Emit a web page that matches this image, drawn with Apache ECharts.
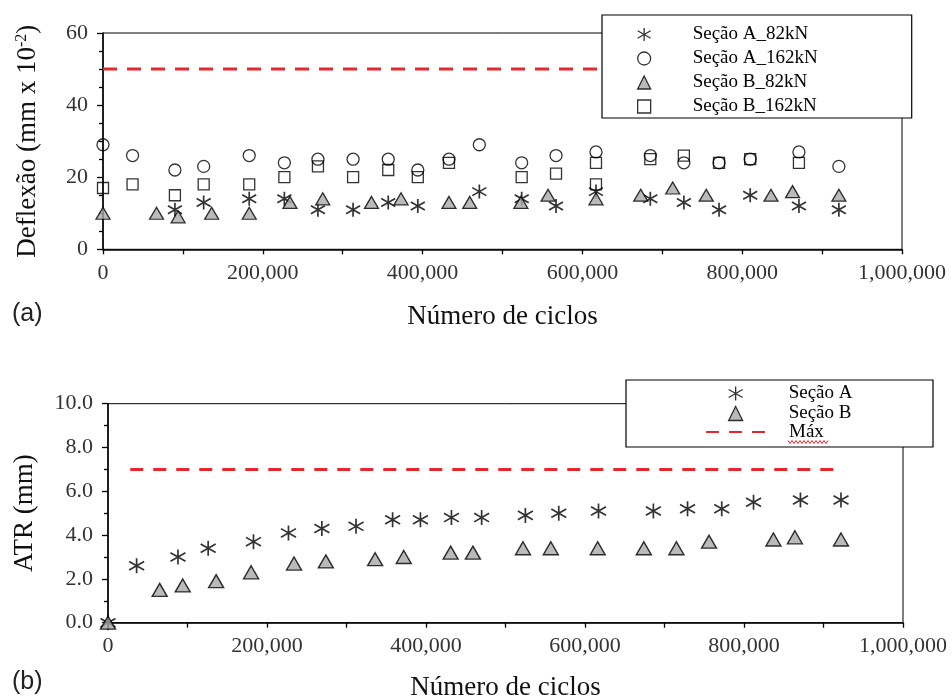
<!DOCTYPE html>
<html>
<head>
<meta charset="utf-8">
<script src="https://cdn.jsdelivr.net/npm/echarts@6.0.0/dist/echarts.min.js"></script>
<style>
  html, body { margin: 0; padding: 0; background: #fff; }
  #chart { width: 952px; height: 697px; }
</style>
</head>
<body>
<div id="chart"></div>
<script>
// (a) Deflexão (mm x 10^-2) por número de ciclos
const ciclosA82 = [90000, 126000, 183000, 227000, 269000, 313000, 357000, 394000, 471000, 524000, 567000, 617000, 685000, 727000, 771000, 810000, 871000, 921000];
const deflA82   = [11, 13, 14, 14, 11, 11, 13, 12, 16, 14, 12, 16, 14, 13, 11, 15, 12, 11];

const ciclosA162 = [0, 37000, 90000, 126000, 183000, 227000, 269000, 313000, 357000, 394000, 433000, 471000, 524000, 567000, 617000, 685000, 727000, 771000, 810000, 871000, 921000];
const deflA162   = [29, 26, 22, 23, 26, 24, 25, 25, 25, 22, 25, 29, 24, 26, 27, 26, 24, 24, 25, 27, 23];

const ciclosB82 = [0, 67000, 94000, 136000, 183000, 234000, 275000, 336000, 373000, 433000, 459000, 523000, 557000, 617000, 673000, 713000, 755000, 836000, 863000, 921000];
const deflB82   = [10, 10, 9, 10, 10, 13, 14, 13, 14, 13, 13, 13, 15, 14, 15, 17, 15, 15, 16, 15];

const ciclosB162 = [0, 37000, 90000, 126000, 183000, 227000, 269000, 313000, 357000, 394000, 433000, 524000, 567000, 617000, 617000, 685000, 727000, 771000, 810000, 871000];
const deflB162   = [17, 18, 15, 18, 18, 20, 23, 20, 22, 20, 24, 20, 21, 24, 18, 25, 26, 24, 25, 24];

const limiteDefl = 50;
const limiteDeflCiclos = [0, 921000];

// (b) ATR (mm) por número de ciclos
const ciclosAtrA = [0, 36000, 88000, 126000, 183000, 227000, 269000, 312000, 358000, 393000, 432000, 470000, 525000, 567000, 617000, 686000, 729000, 772000, 812000, 871000, 922000];
const atrA       = [0, 2.6, 3.0, 3.4, 3.7, 4.1, 4.3, 4.4, 4.7, 4.7, 4.8, 4.8, 4.9, 5.0, 5.1, 5.1, 5.2, 5.2, 5.5, 5.6, 5.6];

const ciclosAtrB = [0, 65000, 94000, 136000, 180000, 234000, 274000, 336000, 372000, 431000, 459000, 522000, 557000, 616000, 674000, 715000, 756000, 837000, 864000, 922000];
const atrB       = [0, 1.5, 1.7, 1.9, 2.3, 2.7, 2.8, 2.9, 3.0, 3.2, 3.2, 3.4, 3.4, 3.4, 3.4, 3.4, 3.7, 3.8, 3.9, 3.8];

const limiteAtr = 7.0;
const limiteAtrCiclos = [28000, 922000];

// Axis ranges and tick steps
const xMax = 1000000, xStep = 200000;
const deflMax = 60, deflStep = 20;
const atrMax = 10, atrStep = 2;

const SERIF = "'Liberation Serif', 'DejaVu Serif', serif";
const ASTERISK = 'path://M7,0L7,14M0,3L14,11M0,11L14,3';
const RED = '#e8262d';
const GRAY = '#a9a9a9';

const pairs = (xs, ys) => xs.map((x, i) => [x, ys[i]]);

const tickStyle = { color: '#000', width: 1.3 };
function xAxisFor(gridIndex) {
  return {
    type: 'value', gridIndex, min: 0, max: xMax, interval: xStep,
    name: 'Número de ciclos', nameLocation: 'middle', nameGap: gridIndex === 0 ? 54 : 52,
    nameTextStyle: { fontFamily: SERIF, fontSize: 27, color: '#111' },
    axisLine: { show: true, lineStyle: { color: '#000', width: 1.5 } },
    axisTick: { show: true, length: 5, lineStyle: tickStyle },
    minorTick: { show: true, splitNumber: 2, length: 5, lineStyle: tickStyle },
    splitLine: { show: false }, minorSplitLine: { show: false },
    axisLabel: {
      margin: 13, fontFamily: SERIF, fontSize: 22, color: '#333',
      formatter: v => v.toLocaleString('en-US')
    }
  };
}

function yAxisFor(gridIndex, max, step, minorSplit, name, nameGap, rich, fmt) {
  const ax = {
    type: 'value', gridIndex, min: 0, max, interval: step,
    name, nameLocation: 'middle', nameGap, nameRotate: 90,
    nameTextStyle: { fontFamily: SERIF, fontSize: 27, color: '#111' },
    axisLine: { show: true, lineStyle: { color: '#000', width: 1.5 } },
    axisTick: { show: true, length: 6, lineStyle: tickStyle },
    minorTick: { show: true, splitNumber: minorSplit, length: 4, lineStyle: tickStyle },
    splitLine: { show: false }, minorSplitLine: { show: false },
    axisLabel: { margin: 15, fontFamily: SERIF, fontSize: 22, color: '#333' }
  };
  if (rich) ax.nameTextStyle.rich = rich;
  if (fmt) ax.axisLabel.formatter = fmt;
  return ax;
}

function scatter(name, axis, symbol, size, fill, xs, ys, bw) {
  return {
    name, type: 'scatter', silent: true, xAxisIndex: axis, yAxisIndex: axis,
    symbol, symbolSize: size, symbolKeepAspect: true,
    itemStyle: { color: fill, borderColor: '#000', borderWidth: bw || 1.3 },
    data: pairs(xs, ys)
  };
}

const legendText = { fontFamily: SERIF, fontSize: 19, lineHeight: 19, color: '#000' };

const option = {
  animation: false,
  backgroundColor: '#fff',
  grid: [
    { left: 103, top: 33, width: 799, height: 216.3, show: true, borderColor: '#000', borderWidth: 1, backgroundColor: 'transparent', containLabel: false, outerBoundsMode: 'none' },
    { left: 108, top: 403.7, width: 795, height: 219, show: true, borderColor: '#000', borderWidth: 1, backgroundColor: 'transparent', containLabel: false, outerBoundsMode: 'none' }
  ],
  xAxis: [xAxisFor(0), xAxisFor(1)],
  yAxis: [
    yAxisFor(0, deflMax, deflStep, 4, '{t|Deflexão (mm x 10}{s|-2}{t|)}', 62, {
      t: { fontFamily: SERIF, fontSize: 27, color: '#111' },
      s: { fontFamily: SERIF, fontSize: 16, color: '#111', verticalAlign: 'top' }
    }),
    yAxisFor(1, atrMax, atrStep, 2, 'ATR (mm)', 70, null, v => v.toFixed(1))
  ],
  legend: [
    {
      orient: 'vertical', selectedMode: false,
      backgroundColor: '#fff', borderColor: '#000', borderWidth: 1.2, borderRadius: 0,
      left: 602, top: 15, padding: [10, 94, 2, 35],
      itemGap: 5, itemWidth: 13, itemHeight: 13,
      itemStyle: { borderWidth: 1.3 },
      textStyle: Object.assign({}, legendText, { lineHeight: null, padding: [0, 0, 0, 37] }),
      data: ['Seção A_82kN', 'Seção A_162kN', 'Seção B_82kN', 'Seção B_162kN']
    },
    {
      orient: 'vertical', selectedMode: false, z: 5,
      left: 728, top: 384, padding: 0,
      itemGap: 1, itemWidth: 14, itemHeight: 14,
      itemStyle: { borderWidth: 1.3 },
      textStyle: Object.assign({}, legendText, { padding: [0, 0, 0, 41] }),
      data: ['Seção A', 'Seção B']
    },
    {
      orient: 'vertical', selectedMode: false, z: 5,
      left: 705, top: 422.5, padding: 0,
      itemWidth: 62, itemHeight: 14,
      textStyle: Object.assign({}, legendText, { padding: [0, 0, 0, 16] }),
      data: [{ name: 'Máx', itemStyle: { opacity: 0 } }]
    }
  ],
  series: [
    {
      name: 'Limite (a)', type: 'line', xAxisIndex: 0, yAxisIndex: 0, silent: true, symbol: 'none', z: 1,
      data: limiteDeflCiclos.map(c => [c, limiteDefl]),
      itemStyle: { color: RED },
      lineStyle: { color: RED, width: 3, type: [14, 10] }
    },
    scatter('Seção A_82kN', 0, ASTERISK, 14, 'transparent', ciclosA82, deflA82, 1.7),
    scatter('Seção A_162kN', 0, 'circle', 12, 'transparent', ciclosA162, deflA162),
    scatter('Seção B_82kN', 0, 'triangle', [14, 12], GRAY, ciclosB82, deflB82),
    scatter('Seção B_162kN', 0, 'rect', 11, 'transparent', ciclosB162, deflB162),
    {
      name: 'Máx', type: 'line', xAxisIndex: 1, yAxisIndex: 1, silent: true, symbol: 'none', z: 1,
      data: limiteAtrCiclos.map(c => [c, limiteAtr]),
      itemStyle: { color: RED },
      lineStyle: { color: RED, width: 3, type: [13, 10] }
    },
    scatter('Seção A', 1, ASTERISK, 15, 'transparent', ciclosAtrA, atrA, 1.7),
    scatter('Seção B', 1, 'triangle', [15, 13], GRAY, ciclosAtrB, atrB, 1.4)
  ],
  graphic: [
    // frame of the (b) legend
    { type: 'rect', z: 3, shape: { x: 626, y: 380, width: 307, height: 67 }, style: { fill: '#fff', stroke: '#000', lineWidth: 1.2 } },
    { type: 'text', left: 12, top: 302, style: { text: '(a)', font: "25px 'Liberation Sans', Arial, sans-serif", fill: '#222' } },
    { type: 'text', left: 12, top: 670, style: { text: '(b)', font: "25px 'Liberation Sans', Arial, sans-serif", fill: '#222' } }
  ]
};

// red wavy underline beneath the "Máx" legend entry
(function () {
  const pts = [];
  for (let i = 0; i <= 20; i++) pts.push([788 + i * 2, 442 + (i % 2 === 0 ? -1.5 : 1.5)]);
  option.graphic.push({ type: 'polyline', z: 10, shape: { points: pts }, style: { stroke: '#d9232a', lineWidth: 1, fill: null } });
})();

const chart = echarts.init(document.getElementById('chart'), null, { renderer: 'canvas' });
chart.setOption(option);
</script>
</body>
</html>
